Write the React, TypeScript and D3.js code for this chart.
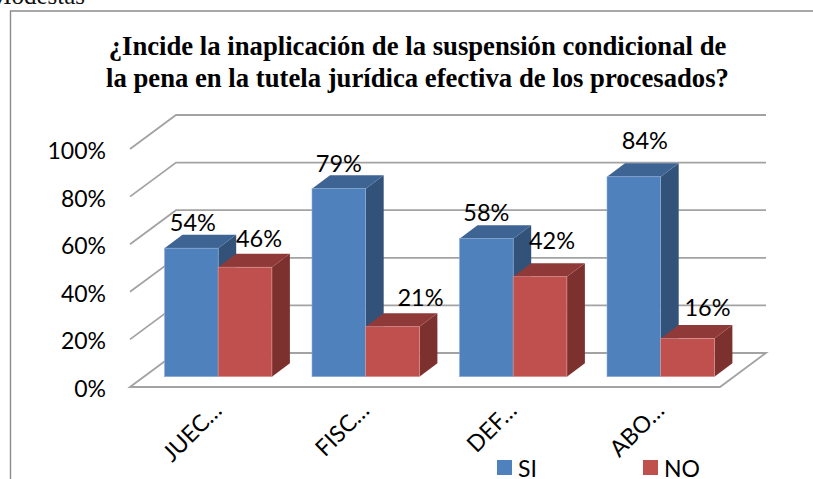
import React from "react";
import * as d3 from "d3";

const categories = ["JUEC…", "FISC…", "DEF…", "ABO…"];
const siValues = [54, 79, 58, 84];
const noValues = [46, 21, 42, 16];
const yTicks = [0, 20, 40, 60, 80, 100];
const seriesNames = ["SI", "NO"];
const titleLines = [
  "¿Incide la inaplicación de la suspensión condicional de",
  "la pena en la tutela jurídica efectiva de los procesados?",
];

// layout
const W = 813, H = 479;
const wallBottom = 353, wallTop = 115;
const floorDx = 46, floorDy = 34;
const wallLeft = 176, wallRight = 766;
const barBase = 376.7, barDx = 18, barDy = 13.5;
const heightScale = d3.scaleLinear().domain([0, 100]).range([0, 238]);
const wallY = d3.scaleLinear().domain([0, 100]).range([wallBottom, wallTop]);
const groupX = d3.scalePoint<string>().domain(categories).range([164.5, 607]);
const barW = 53.7;
const siLabelOff: [number, number][] = [[1.5, -17], [0, -17], [0, -18], [11, -28]];
const noLabelOff: [number, number][] = [[14, -20], [28, -21], [12, -28], [20, -23]];
const FONT = "Lato, Carlito, sans-serif";

const poly = (pts: [number, number][]) => pts.map((p) => p.join(",")).join(" ");

function Bar({ x, value, colors }: { x: number; value: number; colors: string[] }) {
  const top = barBase - heightScale(value);
  const r = x + barW;
  return (
    <g>
      <polygon fill={colors[2]} points={poly([[r, barBase], [r + barDx, barBase - barDy], [r + barDx, top - barDy], [r, top]])} />
      <polygon fill={colors[1]} points={poly([[x, top], [x + barDx, top - barDy], [r + barDx, top - barDy], [r, top]])} />
      <rect x={x} y={top} width={barW} height={barBase - top} fill={colors[0]} stroke={colors[3]} strokeWidth={0.6} />
    </g>
  );
}

export default function App() {
  const blue = ["#4F81BD", "#3E6494", "#33527A", "#8FAFD6"];
  const red = ["#C0504D", "#8F3A38", "#7D312F", "#DC9A98"];
  return (
    <svg width={W} height={H} style={{ position: "absolute", left: 0, top: 0, background: "#fff" }}>
      <text x={85} y={3.5} textAnchor="end" fontFamily="Liberation Serif" fontSize={25} fill="#111">Modestas</text>
      <path d={`M10.5 480V11H813`} fill="none" stroke="#8c8c8c" strokeWidth={1.4} />
      {titleLines.map((t, i) => (
        <text key={i} x={417.5} y={55 + i * 31.5} textAnchor="middle" fontFamily="Liberation Serif" fontWeight="bold" fontSize={26.7} fill="#000">{t}</text>
      ))}
      <g stroke="#a3a3a3" strokeWidth={1.8} fill="none">
        {yTicks.map((t) => {
          const y = wallY(t);
          return <path key={t} d={t === 0
            ? `M${wallLeft - floorDx} ${y + floorDy}L${wallLeft} ${y}H${wallRight}L${wallRight - floorDx} ${y + floorDy}Z`
            : `M${wallLeft - floorDx} ${y + floorDy}L${wallLeft} ${y}H${wallRight}`} />;
        })}
      </g>
      {yTicks.map((t) => (
        <text key={t} x={106} y={wallY(t) + floorDy + 10} textAnchor="end" fontFamily={FONT} fontSize={23} fill="#000">{t}%</text>
      ))}
      {categories.map((c, i) => {
        const x = groupX(c)!;
        return (
          <g key={c}>
            <Bar x={x} value={siValues[i]} colors={blue} />
            <Bar x={x + barW} value={noValues[i]} colors={red} />
          </g>
        );
      })}
      {categories.map((c, i) => {
        const x = groupX(c)!;
        const sTop = barBase - heightScale(siValues[i]);
        const nTop = barBase - heightScale(noValues[i]);
        return (
          <g key={c} fontFamily={FONT} fontSize={23.5} textAnchor="middle" fill="#000">
            <text x={x + barW / 2 + siLabelOff[i][0]} y={sTop + siLabelOff[i][1]}>{siValues[i]}%</text>
            <text x={x + barW * 1.5 + noLabelOff[i][0]} y={nTop + noLabelOff[i][1]}>{noValues[i]}%</text>
          </g>
        );
      })}
      {categories.map((c) => {
        const x = groupX(c)! + barW - 8;
        return (
          <text key={c} transform={`translate(${x},399) rotate(-45)`} textAnchor="end" dominantBaseline="hanging" fontFamily={FONT} fontSize={23} fill="#000">{c}</text>
        );
      })}
      {seriesNames.map((s, i) => (
        <g key={s} transform={`translate(${497 + i * 146},460)`}>
          <rect width={15} height={15} fill={i === 0 ? blue[0] : red[0]} />
          <text x={21} y={16.5} fontFamily={FONT} fontSize={23} fill="#000">{s}</text>
        </g>
      ))}
    </svg>
  );
}
